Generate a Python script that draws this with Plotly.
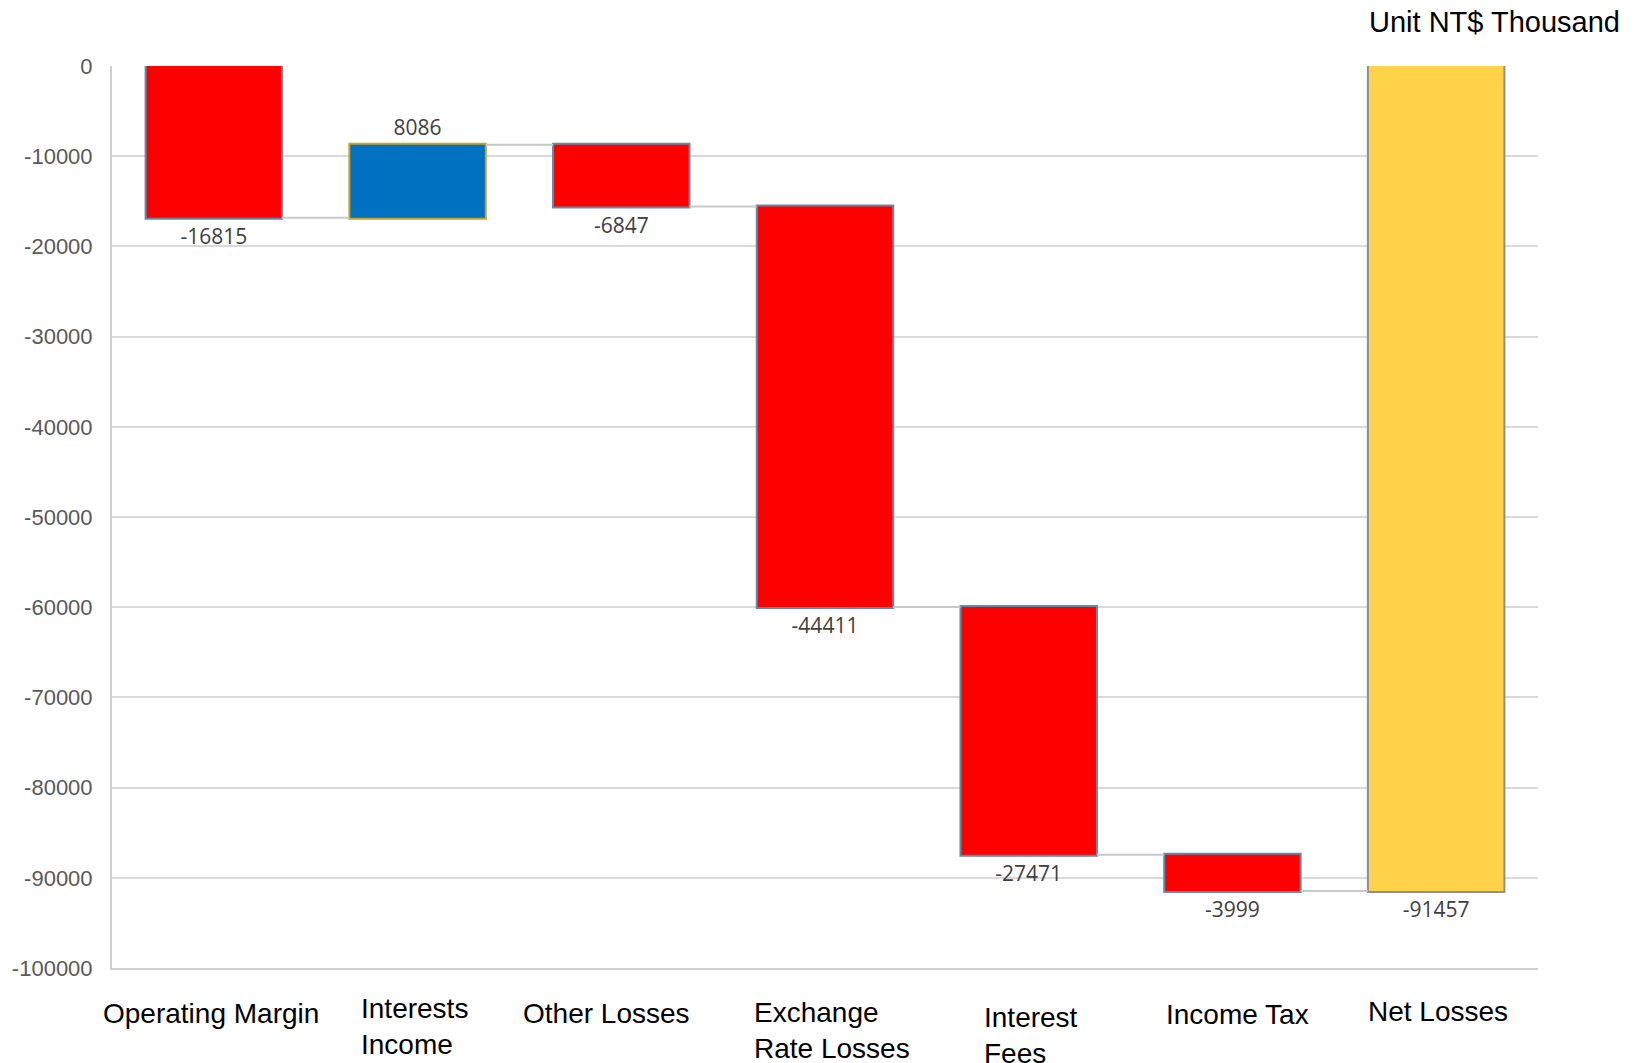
import plotly.graph_objects as go

categories = ["Operating Margin", "Interests<br>Income", "Other Losses",
              "Exchange<br>Rate Losses", "Interest<br>Fees", "Income Tax", "Net Losses"]
values = [-16815, 8086, -6847, -44411, -27471, -3999, 0]
measures = ["relative", "relative", "relative", "relative", "relative", "relative", "total"]
total = sum(values[:-1])
text_labels = [str(v) for v in values[:-1]] + [str(total)]
y_ticks = [0, -10000, -20000, -30000, -40000, -50000, -60000, -70000, -80000, -90000, -100000]

# label placement offsets (px) for the category captions
label_xshift = [-3, -3, -15, 7, 2, 5, 2]
label_yshift = [-28, -23, -28, -27, -32, -29, -26]

ARIAL = "Arial, 'Liberation Sans', sans-serif"

x_idx = list(range(len(categories)))

fig = go.Figure(go.Waterfall(
    x=x_idx,
    y=values,
    measure=measures,
    text=text_labels,
    textposition="outside",
    textfont=dict(family="Open Sans", size=21, color="#404040"),
    cliponaxis=False,
    decreasing=dict(marker=dict(color="#FF0000", line=dict(color="#5E8BA8", width=2))),
    increasing=dict(marker=dict(color="#0070C0", line=dict(color="#C9A227", width=2))),
    totals=dict(marker=dict(color="#FFD24A", line=dict(color="#8E8E8E", width=2))),
    connector=dict(line=dict(color="#C8C8C8", width=2)),
    hoverinfo="skip",
))

for i, cat in enumerate(categories):
    fig.add_annotation(
        x=x_idx[i], xref="x", y=0, yref="paper",
        text=cat, showarrow=False, align="left",
        xanchor="center", yanchor="top",
        xshift=label_xshift[i], yshift=label_yshift[i],
        font=dict(family=ARIAL, size=28, color="#000000"),
    )

fig.add_annotation(
    x=1, xref="paper", y=1, yref="paper", xanchor="right", yanchor="bottom",
    xshift=84, yshift=26,
    text="Unit NT$ Thousand", showarrow=False,
    font=dict(family=ARIAL, size=29, color="#000000"),
)

fig.update_layout(
    width=1637, height=1063,
    margin=dict(l=104, r=107, t=58, b=103, autoexpand=False),
    paper_bgcolor="white", plot_bgcolor="white",
    showlegend=False,
    waterfallgap=0.33,
    xaxis=dict(
        showticklabels=False, showgrid=False, zeroline=False,
        range=[-0.5, len(categories) - 0.5],
        showline=True, linecolor="#D0D0D0", linewidth=2,
        automargin=False, fixedrange=True,
    ),
    yaxis=dict(
        range=[-100000, 0],
        tickvals=y_ticks,
        ticktext=[str(v) for v in y_ticks],
        showgrid=True, gridcolor="#D9D9D9", gridwidth=2,
        zeroline=False,
        showline=True, linecolor="#D0D0D0", linewidth=2,
        tickfont=dict(family=ARIAL, size=22, color="#595959"),
        ticks="", ticklabelstandoff=13,
        automargin=False, fixedrange=True,
    ),
)

fig.write_html("out.html")
